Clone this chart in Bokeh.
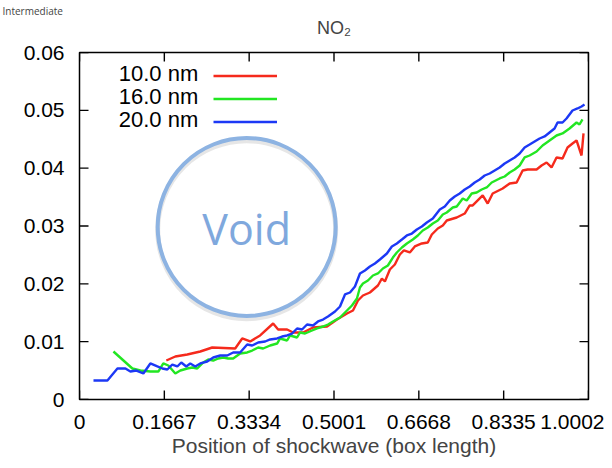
from bokeh.plotting import figure
from bokeh.models import (Range1d, FixedTicker, Label, Legend, LegendItem, Title)
from bokeh.embed import file_html
from bokeh.resources import INLINE

# ---------------- data ----------------
red_x = [0.1706, 0.1883, 0.2118, 0.2373, 0.2608, 0.3059, 0.3197, 0.3354, 0.3550, 0.3805,
         0.3903, 0.4079, 0.4197, 0.4393, 0.4589, 0.4864, 0.5060, 0.5256, 0.5374, 0.5472,
         0.5570, 0.5707, 0.5864, 0.5942, 0.6001, 0.6099, 0.6197, 0.6295, 0.6374, 0.6491,
         0.6589, 0.6727, 0.6844, 0.6923, 0.7041, 0.7139, 0.7217, 0.7413, 0.7570, 0.7668,
         0.7727, 0.7923, 0.8021, 0.8119, 0.8315, 0.8453, 0.8590, 0.8708, 0.8806, 0.8982,
         0.9080, 0.9178, 0.9276, 0.9374, 0.9492, 0.9590, 0.9688, 0.9767, 0.9865, 0.9904]
red_y = [0.00674, 0.00744, 0.00778, 0.00830, 0.00899, 0.00882, 0.01055, 0.01003, 0.01107, 0.01314,
         0.01210, 0.01210, 0.01159, 0.01159, 0.01245, 0.01262, 0.01383, 0.01487, 0.01539, 0.01712,
         0.01798, 0.01850, 0.01971, 0.02092, 0.02040, 0.02248, 0.02334, 0.02507, 0.02577, 0.02542,
         0.02646, 0.02698, 0.02715, 0.02853, 0.02957, 0.03009, 0.03095, 0.03147, 0.03216, 0.03355,
         0.03355, 0.03528, 0.03389, 0.03562, 0.03649, 0.03735, 0.03752, 0.03960, 0.03977, 0.03977,
         0.04046, 0.04098, 0.04012, 0.04185, 0.04167, 0.04358, 0.04427, 0.04479, 0.04219, 0.04600]

green_x = [0.0667, 0.1039, 0.1196, 0.1392, 0.1549, 0.1647, 0.1745, 0.1883, 0.1981, 0.2118,
           0.2216, 0.2314, 0.2432, 0.2530, 0.2628, 0.2726, 0.2824, 0.2922, 0.3020, 0.3157,
           0.3295, 0.3393, 0.3511, 0.3609, 0.3746, 0.3883, 0.3942, 0.4079, 0.4138, 0.4275,
           0.4334, 0.4432, 0.4570, 0.4668, 0.4785, 0.4883, 0.4981, 0.5119, 0.5256, 0.5354,
           0.5452, 0.5511, 0.5570, 0.5668, 0.5766, 0.5864, 0.5962, 0.6060, 0.6158, 0.6236,
           0.6335, 0.6433, 0.6550, 0.6648, 0.6746, 0.6844, 0.6943, 0.7041, 0.7139, 0.7217,
           0.7335, 0.7413, 0.7531, 0.7609, 0.7707, 0.7805, 0.7903, 0.8002, 0.8100, 0.8256,
           0.8355, 0.8453, 0.8551, 0.8649, 0.8747, 0.8845, 0.8982, 0.9100, 0.9237, 0.9374,
           0.9492, 0.9629, 0.9767, 0.9825, 0.9884]
green_y = [0.00830, 0.00536, 0.00501, 0.00484, 0.00484, 0.00623, 0.00588, 0.00450, 0.00501, 0.00536,
           0.00553, 0.00536, 0.00640, 0.00692, 0.00674, 0.00709, 0.00726, 0.00709, 0.00709, 0.00795,
           0.00813, 0.00847, 0.00899, 0.00882, 0.00934, 0.00968, 0.01055, 0.01020, 0.01107, 0.01072,
           0.01159, 0.01141, 0.01193, 0.01228, 0.01262, 0.01297, 0.01349, 0.01418, 0.01539, 0.01625,
           0.01747, 0.01937, 0.02006, 0.02058, 0.02144, 0.02179, 0.02265, 0.02317, 0.02455, 0.02542,
           0.02628, 0.02698, 0.02767, 0.02836, 0.02922, 0.02974, 0.03043, 0.03095, 0.03199, 0.03234,
           0.03320, 0.03337, 0.03476, 0.03441, 0.03562, 0.03580, 0.03631, 0.03666, 0.03752, 0.03822,
           0.03856, 0.03925, 0.03977, 0.04046, 0.04185, 0.04219, 0.04288, 0.04392, 0.04479, 0.04565,
           0.04600, 0.04686, 0.04790, 0.04755, 0.04842]

blue_x = [0.0275, 0.0549, 0.0745, 0.0902, 0.1000, 0.1118, 0.1255, 0.1392, 0.1530, 0.1628,
          0.1726, 0.1824, 0.1922, 0.2000, 0.2098, 0.2177, 0.2275, 0.2373, 0.2510, 0.2628,
          0.2765, 0.2903, 0.3020, 0.3157, 0.3295, 0.3393, 0.3511, 0.3648, 0.3746, 0.3883,
          0.3981, 0.4079, 0.4177, 0.4275, 0.4373, 0.4471, 0.4589, 0.4687, 0.4785, 0.4883,
          0.5021, 0.5119, 0.5217, 0.5315, 0.5413, 0.5511, 0.5609, 0.5707, 0.5805, 0.5903,
          0.6040, 0.6138, 0.6236, 0.6335, 0.6433, 0.6531, 0.6629, 0.6727, 0.6825, 0.6943,
          0.7080, 0.7178, 0.7276, 0.7374, 0.7472, 0.7570, 0.7668, 0.7766, 0.7864, 0.7962,
          0.8060, 0.8158, 0.8256, 0.8355, 0.8453, 0.8551, 0.8649, 0.8747, 0.8845, 0.8943,
          0.9041, 0.9139, 0.9237, 0.9335, 0.9394, 0.9492, 0.9570, 0.9688, 0.9786, 0.9865,
          0.9924]
blue_y = [0.00329, 0.00329, 0.00536, 0.00536, 0.00484, 0.00501, 0.00450, 0.00623, 0.00571, 0.00536,
          0.00519, 0.00605, 0.00571, 0.00640, 0.00571, 0.00623, 0.00571, 0.00623, 0.00657, 0.00726,
          0.00761, 0.00761, 0.00813, 0.00813, 0.00951, 0.00934, 0.00986, 0.01003, 0.01038, 0.01055,
          0.01089, 0.01107, 0.01141, 0.01228, 0.01210, 0.01297, 0.01280, 0.01349, 0.01383, 0.01435,
          0.01522, 0.01608, 0.01816, 0.01850, 0.01954, 0.02179, 0.02231, 0.02300, 0.02352, 0.02421,
          0.02525, 0.02646, 0.02698, 0.02767, 0.02836, 0.02870, 0.02940, 0.02992, 0.03061, 0.03130,
          0.03286, 0.03337, 0.03441, 0.03510, 0.03562, 0.03631, 0.03683, 0.03752, 0.03804, 0.03873,
          0.03908, 0.03960, 0.04012, 0.04081, 0.04133, 0.04185, 0.04254, 0.04358, 0.04409, 0.04461,
          0.04513, 0.04548, 0.04617, 0.04686, 0.04790, 0.04790, 0.04859, 0.04997, 0.05032, 0.05067,
          0.05101]

series_names = ["10.0 nm", "16.0 nm", "20.0 nm"]
x_ticks = [0, 0.1667, 0.3334, 0.5001, 0.6668, 0.8335, 1.0002]
x_tick_labels = ["0", "0.1667", "0.3334", "0.5001", "0.6668", "0.8335", "1.0002"]
y_ticks = [0, 0.01, 0.02, 0.03, 0.04, 0.05, 0.06]
y_tick_labels = ["0", "0.01", "0.02", "0.03", "0.04", "0.05", "0.06"]

# ---------------- figure ----------------
FONT = "Liberation Sans"
RED, GREEN, BLUE = "#f52a1c", "#22e622", "#1c38f5"
VOID = "#8db3e2"
X0, X1 = x_ticks[0], x_ticks[-1]
Y0, Y1 = y_ticks[0], y_ticks[-1]

p = figure(width=604, height=460, output_backend="svg", toolbar_location=None,
           x_range=Range1d(X0, X1), y_range=Range1d(Y0, Y1),
           min_border_left=79, min_border_right=16, min_border_top=52, min_border_bottom=61,
           background_fill_color="white", border_fill_color="white")
p.grid.visible = False
p.outline_line_color = "black"
p.outline_line_width = 1.5

# outermost title: slide heading fragment at the top-left
p.title.text = "Intermediate"
p.title.align = "left"
p.title.offset = -77
p.title.text_font = "Open Sans"
p.title.text_font_size = "10px"
p.title.text_font_style = "normal"
p.title.standoff = 0

# chart title (NO2) and a spacer below it
t_no2 = Title(text="NO₂", align="center", text_font=FONT, text_font_size="18px",
              text_font_style="normal", standoff=0, vertical_align="top")
t_gap = Title(text=" ", text_font_size="1px", standoff=10)
p.above = [t_gap, t_no2]   # first entry sits next to the frame

# axes: labels only; tick marks are drawn inside the frame below
for ax in (p.xaxis[0], p.yaxis[0]):
    ax.axis_line_color = None
    ax.major_tick_line_color = None
    ax.minor_tick_line_color = None
    ax.major_tick_in = 0
    ax.major_tick_out = 0
    ax.major_label_text_font = FONT
    ax.major_label_text_font_size = "21px"
    ax.major_label_text_color = "black"

p.xaxis.ticker = FixedTicker(ticks=x_ticks)
p.xaxis.major_label_overrides = {t: l for t, l in zip(x_ticks, x_tick_labels)}
p.xaxis.major_label_standoff = 15
p.xaxis.axis_label = "Position of shockwave (box length)"
p.xaxis.axis_label_text_font = FONT
p.xaxis.axis_label_text_font_size = "21px"
p.xaxis.axis_label_text_font_style = "normal"
p.xaxis.axis_label_standoff = 2

p.yaxis.ticker = FixedTicker(ticks=y_ticks)
p.yaxis.major_label_overrides = {t: l for t, l in zip(y_ticks, y_tick_labels)}
p.yaxis.major_label_standoff = 15

# inward tick marks on all four sides (9 px long)
TICK_PX = 9
ty = TICK_PX * (Y1 - Y0) / 347
tx = TICK_PX * (X1 - X0) / 509
tick_style = dict(line_color="black", line_width=1.4)
p.segment(x0=x_ticks, y0=[Y0] * len(x_ticks), x1=x_ticks, y1=[Y0 + ty] * len(x_ticks), **tick_style)
p.segment(x0=x_ticks, y0=[Y1] * len(x_ticks), x1=x_ticks, y1=[Y1 - ty] * len(x_ticks), **tick_style)
p.segment(x0=[X0] * len(y_ticks), y0=y_ticks, x1=[X0 + tx] * len(y_ticks), y1=y_ticks, **tick_style)
p.segment(x0=[X1] * len(y_ticks), y0=y_ticks, x1=[X1 - tx] * len(y_ticks), y1=y_ticks, **tick_style)

# series
r1 = p.line(red_x, red_y, line_color=RED, line_width=2.4)
r2 = p.line(green_x, green_y, line_color=GREEN, line_width=2.4)
r3 = p.line(blue_x, blue_y, line_color=BLUE, line_width=2.4)

# legend: samples via Legend, names as right-aligned labels to their left
legend = Legend(items=[LegendItem(label=" ", renderers=[r]) for r in (r1, r2, r3)],
                location=(134, 266), glyph_width=64, glyph_height=23, spacing=0,
                padding=0, margin=0, label_text_font_size="8px", label_width=1,
                label_standoff=0, border_line_color=None, background_fill_alpha=0)
p.add_layout(legend)
for name, yy in zip(series_names, [0.05637, 0.05240, 0.04842]):
    p.add_layout(Label(x=0.2334, y=yy, text=name, text_align="right", text_baseline="middle",
                       text_font=FONT, text_font_size="22px", text_color="black"))

# slide overlay: "Void" circle
p.scatter([0.3285], [0.02935], marker="circle", size=178, fill_color=None,
          line_color="#9a9a9a", line_alpha=0.25, line_width=5)
p.scatter([0.3285], [0.02983], marker="circle", size=178, fill_color=None,
          line_color=VOID, line_width=4)
p.add_layout(Label(x=0.3285, y=0.0296, text="Void", text_align="center", text_baseline="middle",
                   text_font="Open Sans", text_font_size="43px", text_color="#7fa8dd"))

open("out.html", "w").write(file_html(p, INLINE))
